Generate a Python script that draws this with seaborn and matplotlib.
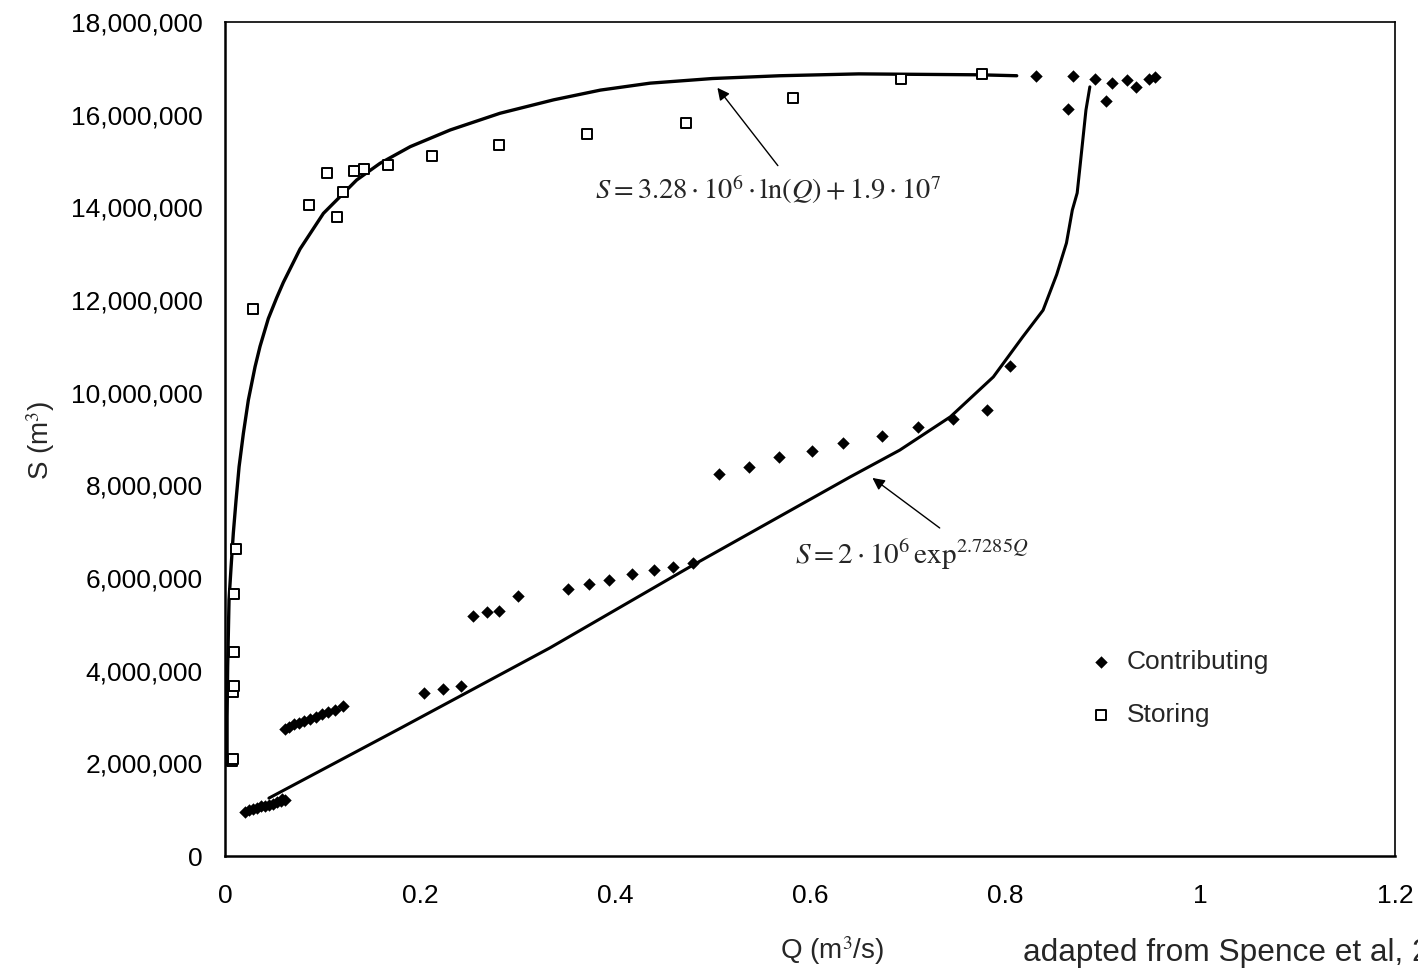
import numpy as np
import pandas as pd
import matplotlib
matplotlib.use("Agg")
import matplotlib.pyplot as plt
from matplotlib.ticker import MultipleLocator, FuncFormatter
import seaborn as sns

# data (Q in m3/s, S in millions of m3)
contrib_q = [0.020, 0.025, 0.029, 0.033, 0.037, 0.041, 0.045, 0.049, 0.053, 0.057, 0.061, 0.058,
             0.061, 0.066, 0.071, 0.076, 0.081, 0.087, 0.093, 0.099, 0.106, 0.113, 0.121,
             0.204, 0.224, 0.242, 0.254, 0.269, 0.281, 0.300,
             0.352, 0.373, 0.394, 0.417, 0.440, 0.459, 0.480,
             0.507, 0.537, 0.568, 0.602, 0.634, 0.674, 0.711, 0.747, 0.781, 0.805,
             0.832, 0.865, 0.870, 0.892, 0.904, 0.910, 0.925, 0.934, 0.948, 0.954]
contrib_s = [0.95, 0.99, 1.02, 1.04, 1.07, 1.09, 1.11, 1.13, 1.16, 1.18, 1.21, 1.24,
             2.74, 2.79, 2.84, 2.88, 2.92, 2.96, 3.01, 3.06, 3.11, 3.16, 3.23,
             3.52, 3.60, 3.67, 5.18, 5.27, 5.29, 5.61,
             5.76, 5.87, 5.96, 6.09, 6.17, 6.24, 6.32,
             8.25, 8.40, 8.61, 8.74, 8.91, 9.07, 9.26, 9.43, 9.63, 10.58,
             16.84, 16.12, 16.84, 16.77, 16.30, 16.68, 16.75, 16.60, 16.77, 16.81]

storing_q = [0.007, 0.008, 0.008, 0.009, 0.009, 0.0095, 0.011, 0.029,
             0.086, 0.105, 0.115, 0.121, 0.132, 0.143, 0.167, 0.212,
             0.281, 0.371, 0.473, 0.583, 0.693, 0.776]
storing_s = [2.05, 2.10, 3.54, 3.67, 4.40, 5.65, 6.63, 11.80,
             14.05, 14.74, 13.79, 14.33, 14.78, 14.83, 14.91, 15.11,
             15.35, 15.58, 15.82, 16.36, 16.77, 16.88]

# fitted curves as drawn
log_q = [0.0021, 0.0021, 0.0027, 0.0034, 0.0041, 0.0062, 0.0085, 0.0113, 0.0144,
         0.0188, 0.0239, 0.0308, 0.0359, 0.0444, 0.0530, 0.0598, 0.0769,
         0.1009, 0.1350, 0.159, 0.190, 0.231, 0.282, 0.337, 0.385, 0.436, 0.500,
         0.569, 0.650, 0.774, 0.812]
log_s = [2.07, 3.01, 4.09, 4.81, 5.53, 6.24, 6.97, 7.68, 8.40,
         9.12, 9.84, 10.56, 11.00, 11.60, 12.05, 12.38, 13.10,
         13.87, 14.59, 14.95, 15.31, 15.67, 16.03, 16.32, 16.53, 16.68, 16.78,
         16.84, 16.88, 16.86, 16.84]

exp_q = [0.045, 0.180, 0.333, 0.480, 0.641, 0.692, 0.744, 0.788, 0.818, 0.839,
         0.853, 0.863, 0.869, 0.874, 0.877, 0.880, 0.883, 0.887]
exp_s = [1.25, 2.76, 4.49, 6.28, 8.18, 8.76, 9.48, 10.34, 11.20, 11.78,
         12.55, 13.23, 13.94, 14.31, 14.90, 15.50, 16.10, 16.60]

pts_c = pd.DataFrame({"Q": contrib_q, "S": np.array(contrib_s) * 1e6})
pts_s = pd.DataFrame({"Q": storing_q, "S": np.array(storing_s) * 1e6})
fit_log = pd.DataFrame({"Q": log_q, "S": np.array(log_s) * 1e6})
fit_exp = pd.DataFrame({"Q": exp_q, "S": np.array(exp_s) * 1e6})

sns.set_style("white")
plt.rcParams["font.family"] = ["Liberation Sans", "DejaVu Sans"]
plt.rcParams["mathtext.fontset"] = "stix"

fig = plt.figure(figsize=(14.18, 9.73), dpi=100)
ax = fig.add_axes([0.1587, 0.1202, 0.8251, 0.8572])

sns.lineplot(data=fit_log, x="Q", y="S", sort=False, estimator=None,
             color="black", lw=2.4, ax=ax, legend=False)
sns.lineplot(data=fit_exp, x="Q", y="S", sort=False, estimator=None,
             color="black", lw=2.2, ax=ax, legend=False)
sns.scatterplot(data=pts_c, x="Q", y="S", marker="D", s=40, color="black",
                edgecolor="black", linewidth=0, ax=ax, label="Contributing", zorder=3)
sns.scatterplot(data=pts_s, x="Q", y="S", marker="s", s=52, facecolor="white",
                edgecolor="black", linewidth=1.4, ax=ax, label="Storing", zorder=3)

ax.set_xlim(0, 1.2)
ax.set_ylim(0, 18e6)
ax.xaxis.set_major_locator(MultipleLocator(0.2))
ax.xaxis.set_minor_locator(MultipleLocator(0.04))
ax.yaxis.set_major_locator(MultipleLocator(2e6))
ax.yaxis.set_minor_locator(MultipleLocator(4e5))
ax.yaxis.set_major_formatter(FuncFormatter(lambda v, p: f"{v:,.0f}"))
ax.xaxis.set_major_formatter(FuncFormatter(lambda v, p: f"{v:g}"))

ax.tick_params(which="both", direction="in", color="#a0a0a0", length=4, width=1,
               labelsize=19, labelcolor="black")
ax.tick_params(axis="x", which="major", pad=20)
ax.tick_params(axis="y", which="major", pad=16)
for sp in ax.spines.values():
    sp.set_color("black")
    sp.set_linewidth(1.2)
ax.spines["left"].set_linewidth(1.8)
ax.spines["bottom"].set_linewidth(1.8)

ax.set_xlabel("Q (m$^3$/s)", fontsize=20, va="center")
ax.set_ylabel("S (m$^3$)", fontsize=20, va="center")
ax.xaxis.set_label_coords(0.519, -0.113)
ax.yaxis.set_label_coords(-0.158, 0.499)

ax.text(0.379, 14.37e6, r"$S = 3.28\cdot10^{6}\cdot\ln(Q) + 1.9\cdot10^{7}$",
        fontsize=20.5, va="center", ha="left")
ax.annotate("", xy=(0.505, 16.58e6), xytext=(0.567, 14.9e6),
            arrowprops=dict(arrowstyle="-|>", color="black", lw=1.0,
                            mutation_scale=18, shrinkA=0, shrinkB=0))
ax.text(0.585, 6.5e6, r"$S = 2\cdot10^{6}\,\exp^{2.7285Q}$",
        fontsize=21, va="center", ha="left")
ax.annotate("", xy=(0.664, 8.16e6), xytext=(0.733, 7.08e6),
            arrowprops=dict(arrowstyle="-|>", color="black", lw=1.0,
                            mutation_scale=18, shrinkA=0, shrinkB=0))

ax.legend(loc="center left", bbox_to_anchor=(0.737, 0.201), frameon=False,
          fontsize=19, borderaxespad=0, borderpad=0, handlelength=1.0,
          handletextpad=0.5, labelspacing=1.1)

# the reference runs this line off the right edge
fig.text(0.7214, 0.0206, "adapted from Spence et al, 2010", fontsize=22.8, va="center", ha="left")

fig.savefig("out.png", dpi=100)
